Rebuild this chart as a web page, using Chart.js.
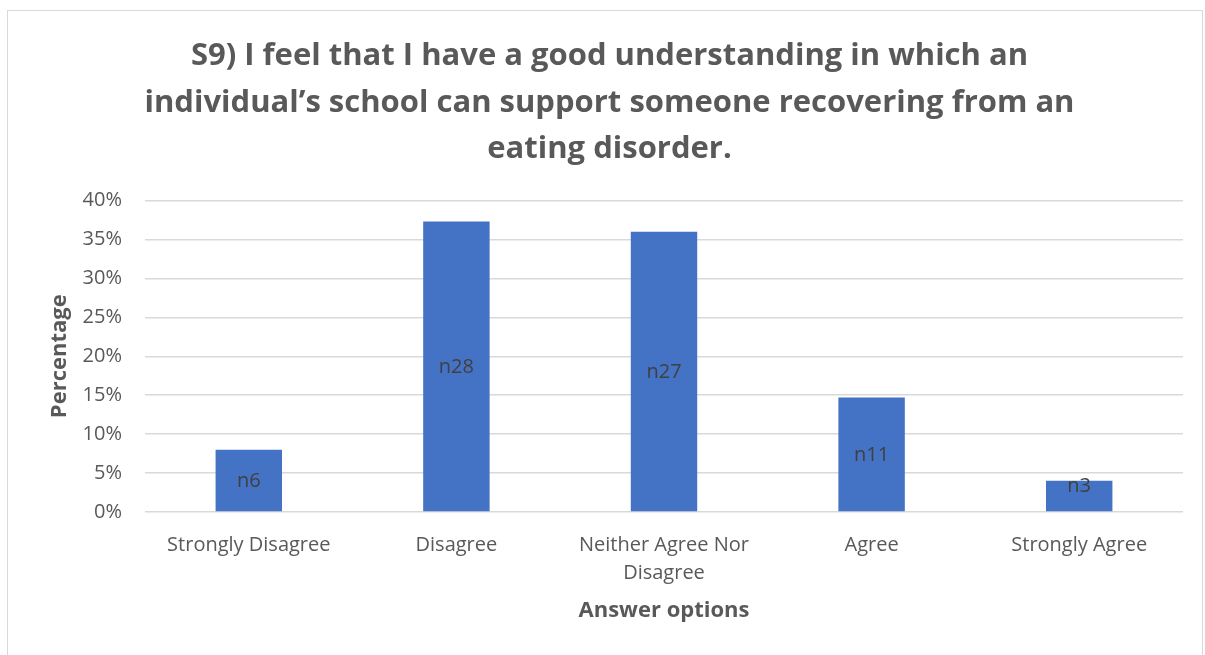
<!DOCTYPE html>
<html>
<head>
<meta charset="utf-8">
<script src="https://cdn.jsdelivr.net/npm/chart.js@4/dist/chart.umd.min.js"></script>
<style>
    body { margin: 0; background: #fff; }
    .chart-box {
        position: absolute;
        left: 7px;
        top: 10px;
        width: 1196px;
        height: 660px;
        border: 1px solid #d9d9d9;
        box-sizing: border-box;
    }
</style>
</head>
<body>
<div class="chart-box">
    <canvas id="myChart"></canvas>
</div>
<script>
const categories = ['Strongly Disagree', 'Disagree', ['Neither Agree Nor', 'Disagree'], 'Agree', 'Strongly Agree']
const percentages = [8, 37.3, 36, 14.7, 4]
const counts = ['n6', 'n28', 'n27', 'n11', 'n3']
const yTicks = [0, 5, 10, 15, 20, 25, 30, 35, 40]

const titleLines = [
    'S9) I feel that I have a good understanding in which an',
    'individual\u2019s school can support someone recovering from an',
    'eating disorder.'
]

const fontName = '"Open Sans", Calibri, sans-serif'

// labels in the middle of each bar
const barLabels = {
    id: 'barLabels',
    afterDatasetsDraw(chart) {
        const ctx = chart.ctx
        const meta = chart.getDatasetMeta(0)
        ctx.save()
        ctx.font = '20px ' + fontName
        ctx.fillStyle = '#404040'
        ctx.textAlign = 'center'
        ctx.textBaseline = 'middle'
        meta.data.forEach((bar, i) => {
            let y = (bar.y + bar.base) / 2 + 1
            if (y > bar.base - 25) y = bar.base - 25
            ctx.fillText(counts[i], bar.x, y)
        })
        ctx.restore()
    }
}

const ctx = document.getElementById('myChart').getContext('2d')
const myChart = new Chart(ctx, {
    type: 'bar',
    data: {
        labels: categories,
        datasets: [{
            data: percentages,
            backgroundColor: '#4472c4',
            borderWidth: 0,
            categoryPercentage: 1,
            barPercentage: 0.32
        }]
    },
    options: {
        maintainAspectRatio: false,
        animation: false,
        layout: {
            padding: { left: 28, right: 19, top: 22, bottom: 46 }
        },
        scales: {
            x: {
                afterFit: axis => { axis.height = 111 },
                grid: { display: false, drawTicks: false },
                border: { display: false },
                ticks: {
                    color: '#595959',
                    font: { family: fontName, size: 20, lineHeight: 1.4 },
                    maxRotation: 0,
                    padding: 19
                },
                title: {
                    display: true,
                    text: 'Answer options',
                    color: '#595959',
                    font: { family: fontName, size: 22, weight: 'bold' },
                    padding: { top: 0, bottom: -1 }
                }
            },
            y: {
                min: 0,
                max: 40,
                afterBuildTicks: axis => {
                    axis.ticks = yTicks.map(v => ({ value: v }))
                },
                afterFit: axis => { axis.width = 109 },
                grid: { color: '#d9d9d9', lineWidth: 1.5, drawTicks: false },
                border: { display: false },
                ticks: {
                    color: '#595959',
                    font: { family: fontName, size: 20 },
                    padding: 23,
                    callback: v => v + '%'
                },
                title: {
                    display: true,
                    text: 'Percentage',
                    color: '#595959',
                    font: { family: fontName, size: 22, weight: 'bold' },
                    padding: { top: 11, bottom: 0 }
                }
            }
        },
        plugins: {
            legend: { display: false },
            tooltip: { enabled: false },
            title: {
                display: true,
                text: titleLines,
                color: '#595959',
                font: { family: fontName, size: 31, weight: 'bold', lineHeight: 1.5 },
                padding: { top: 0, bottom: 28 }
            }
        }
    },
    plugins: [barLabels]
})
</script>
</body>
</html>
